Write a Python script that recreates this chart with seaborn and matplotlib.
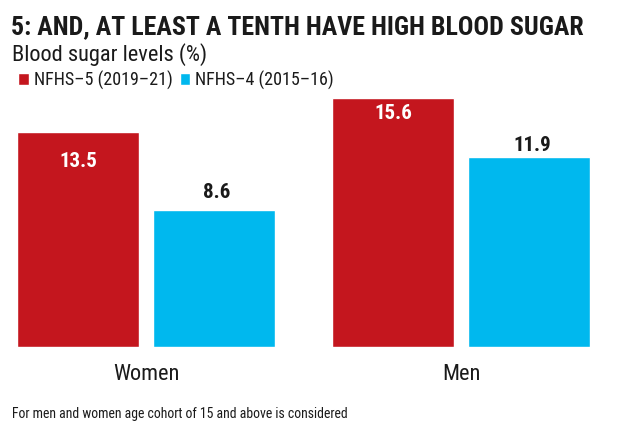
import os
import pandas as pd
import matplotlib
matplotlib.use("Agg")
import matplotlib.pyplot as plt
from matplotlib import font_manager as fm
import seaborn as sns

# data
groups = ["Women", "Men"]
surveys = ["NFHS–5 (2019–21)", "NFHS–4 (2015–16)"]
nfhs5 = [13.5, 15.6]
nfhs4 = [8.6, 11.9]

RED = "#C4161E"
CYAN = "#00B8EE"
INK = "#1A1A1A"

sns.set_theme(style="white")
plt.rcParams["font.family"] = ["Roboto", "DejaVu Sans"]

# narrowest font files that are installed (the reference uses a condensed face)
files = {os.path.basename(f.fname): f.fname for f in fm.fontManager.ttflist}
pairs = [
    ("RobotoCondensed-Regular.ttf", "RobotoCondensed-Bold.ttf"),
    ("LiberationSansNarrow-Regular.ttf", "LiberationSansNarrow-Bold.ttf"),
    ("DejaVuSansCondensed.ttf", "DejaVuSansCondensed-Bold.ttf"),
    ("Roboto-Regular.ttf", "Roboto-Bold.ttf"),
    ("Lato-Regular.ttf", "Lato-Bold.ttf"),
]
REG, BOLD = None, None
for r, b in pairs:
    if r in files and b in files:
        REG, BOLD = files[r], files[b]
        break


def fit(texts, cap_px, max_w, bold=False):
    # size from the cap height, shrink if the text would run wider than the reference
    path = BOLD if bold else REG
    if path:
        fp = fm.FontProperties(fname=path)
    else:
        fp = fm.FontProperties(family="DejaVu Sans", weight="bold" if bold else "normal")
    fp.set_size(cap_px / 0.715 * 0.72)
    texts[0].set_fontproperties(fp)
    w = texts[0].get_window_extent(renderer).width
    if w > max_w:
        fp.set_size(fp.get_size() * max_w / w)
    for t in texts:
        t.set_fontproperties(fp)


df = pd.DataFrame({
    "group": groups * 2,
    "survey": [surveys[0]] * 2 + [surveys[1]] * 2,
    "value": nfhs5 + nfhs4,
})

W, H = 620, 429
fig = plt.figure(figsize=(W / 100, H / 100), dpi=100)
fig.patch.set_facecolor("white")
renderer = fig.canvas.get_renderer()

# axes: baseline at y=347px, 15.93 px per unit
ax = fig.add_axes([0, 1 - 347 / H, 1, 257 / H])
sns.barplot(data=df, x="group", y="value", hue="survey", order=groups,
            hue_order=surveys, palette=[RED, CYAN], width=0.864, gap=0.11,
            saturation=1, ax=ax, legend=True)
ax.set_xlim(-146 / 315, (620 - 146) / 315)
ax.set_ylim(0, 257 / 15.93)
sns.despine(ax=ax, left=True, bottom=True)
ax.set_yticks([])
ax.set_xlabel("")
ax.set_ylabel("")
ax.tick_params(axis="x", length=0, pad=12, labelsize=16, labelcolor=INK)
ax.set_facecolor("white")

# value labels: white inside the red bars, dark above the blue ones
vals = []
inside_pad = [-21, -11]
for i, bar in enumerate(ax.containers[0]):
    vals.append(ax.annotate(f"{nfhs5[i]:.1f}", (bar.get_x() + bar.get_width() / 2, bar.get_height()),
                            xytext=(0, inside_pad[i]), textcoords="offset points",
                            ha="center", va="center", color="white"))
above_pad = [12.5, 8.5]
for i, bar in enumerate(ax.containers[1]):
    vals.append(ax.annotate(f"{nfhs4[i]:.1f}", (bar.get_x() + bar.get_width() / 2, bar.get_height()),
                            xytext=(2, above_pad[i]), textcoords="offset points",
                            ha="center", va="center", color=INK))

handles, labels = ax.get_legend_handles_labels()
ax.get_legend().remove()
leg = fig.legend(handles, labels, loc="center left", bbox_to_anchor=(11 / W, 1 - 80 / H),
                 ncol=2, frameon=False, fontsize=13, handlelength=0.6, handleheight=0.6,
                 handletextpad=0.25, columnspacing=0.4, labelcolor=INK, borderaxespad=0)

title = fig.text(11 / W, 1 - 34 / H, "5: AND, AT LEAST A TENTH HAVE HIGH BLOOD SUGAR",
                 color=INK, va="baseline")
sub = fig.text(12 / W, 1 - 61 / H, "Blood sugar levels (%)", color=INK, va="baseline")
foot = fig.text(12 / W, 1 - 418 / H,
                "For men and women age cohort of 15 and above is considered",
                color=INK, va="baseline")

fig.canvas.draw()
fit([title], 21, 572, bold=True)
fit([sub], 16, 206)
fit([foot], 10, 338)
fit(leg.get_texts(), 13, 138)
fit(ax.get_xticklabels(), 16, 80)
fit(vals, 15, 42, bold=True)

fig.savefig("out.png", dpi=100, facecolor="white")
